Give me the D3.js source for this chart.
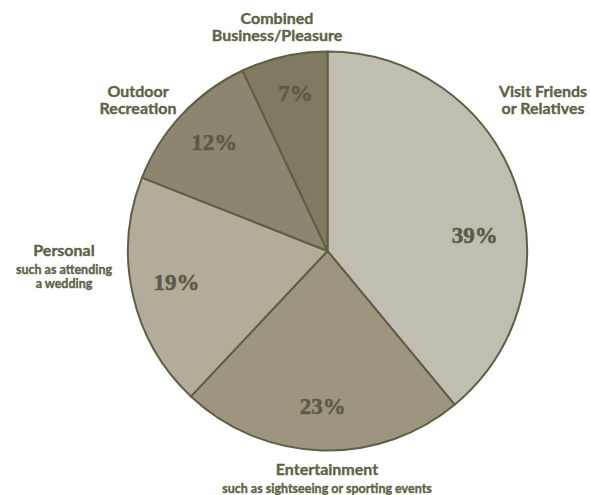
<!DOCTYPE html>
<html>
<head>
<meta charset="utf-8">
<script src="https://cdn.jsdelivr.net/npm/d3@7/dist/d3.min.js"></script>
<style>
  html, body { margin: 0; padding: 0; background: #ffffff; }
  svg { display: block; }
</style>
</head>
<body>
<div id="chart"></div>
<script>
// Trip purposes, clockwise from 12 o'clock
const categories = ["Visit Friends or Relatives", "Entertainment", "Personal", "Outdoor Recreation", "Combined Business/Pleasure"];
const shares = [39, 23, 19, 12, 7];
const titleLines = [
  ["Visit Friends", "or Relatives"],
  ["Entertainment"],
  ["Personal"],
  ["Outdoor", "Recreation"],
  ["Combined", "Business/Pleasure"]
];
const noteLines = [
  [],
  ["such as sightseeing or sporting events"],
  ["such as attending", "a wedding"],
  [],
  []
];

// Presentation
const width = 590, height = 495;
const cx = 327.5, cy = 251, radius = 199.5;
const fills = ["#c1bdb0", "#9d957f", "#b2ac9a", "#8c8670", "#7f7a61"];
const edge = "#5f5f45";
const textColor = "#5f6146";
const pctColor = "#5b5a44";
// where each slice's outer caption sits (anchor x, first baseline y)
const captionPos = [[543, 96.5], [327, 475], [64, 256], [138, 96.5], [277, 23.5]];
// angular nudge (radians) for the value label inside each slice
const pctNudge = [0.24, 0, 0.02, 0.01, 0.02];
const pctRadius = [148, 155, 154, 157, 161];

const svg = d3.select("#chart").append("svg")
  .attr("width", width).attr("height", height);

const pie = d3.pie().sort(null).value(d => d);
const arcs = pie(shares);
const arc = d3.arc().innerRadius(0).outerRadius(radius);

const g = svg.append("g").attr("transform", `translate(${cx},${cy})`);

g.selectAll("path.slice")
  .data(arcs)
  .join("path")
  .attr("class", "slice")
  .attr("d", arc)
  .attr("fill", (d, i) => fills[i])
  .attr("stroke", edge)
  .attr("stroke-width", 2)
  .attr("stroke-linejoin", "round");

// percentage labels
g.selectAll("text.pct")
  .data(arcs)
  .join("text")
  .attr("class", "pct")
  .attr("transform", (d, i) => {
    const a = (d.startAngle + d.endAngle) / 2 + pctNudge[i];
    const r = pctRadius[i];
    return `translate(${r * Math.sin(a)},${-r * Math.cos(a)})`;
  })
  .attr("text-anchor", "middle")
  .attr("dy", "0.35em")
  .attr("font-family", "'Liberation Serif', 'DejaVu Serif', serif")
  .attr("font-weight", "bold")
  .attr("font-size", 23)
  .attr("fill", pctColor)
  .attr("stroke", pctColor)
  .attr("stroke-width", 0.5)
  .text(d => d.data + "%");

// outer captions
categories.forEach((c, i) => {
  const [x, y] = captionPos[i];
  const t = svg.append("text")
    .attr("x", x).attr("y", y)
    .attr("text-anchor", "middle")
    .attr("font-family", "Lato, 'Open Sans', sans-serif")
    .attr("font-weight", "bold")
    .attr("fill", textColor)
    .attr("stroke", textColor)
    .attr("stroke-width", 0.35);
  titleLines[i].forEach((line, j) => {
    t.append("tspan")
      .attr("x", x)
      .attr("dy", j === 0 ? 0 : 17.5)
      .attr("font-size", 16)
      .text(line);
  });
  noteLines[i].forEach((line, j) => {
    t.append("tspan")
      .attr("x", x)
      .attr("dy", j === 0 ? 18 : 14)
      .attr("font-size", 12.5)
      .text(line);
  });
});
</script>
</body>
</html>
